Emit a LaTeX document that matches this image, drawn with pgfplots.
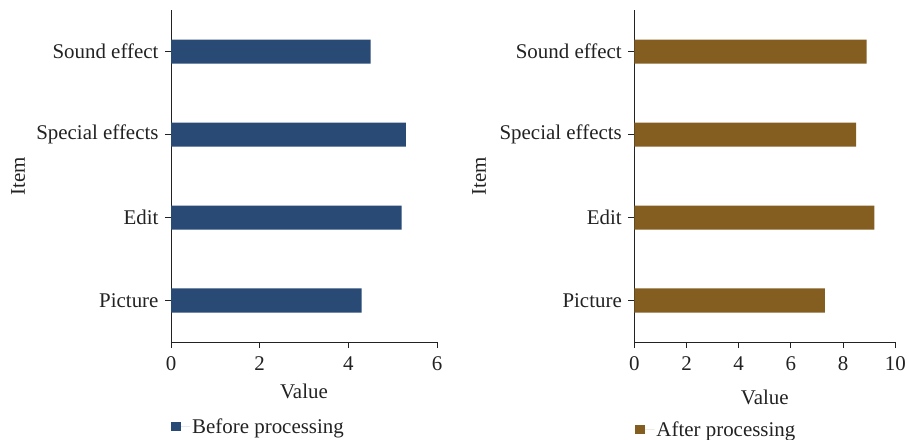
\documentclass[border=0pt]{standalone}
\usepackage{fontspec}
\setmainfont{Liberation Serif}
\usepackage{pgfplots}
\pgfplotsset{compat=1.18}

\definecolor{beforeblue}{HTML}{284A75}
\definecolor{afterbrown}{HTML}{845E21}
\definecolor{axisgray}{HTML}{222222}

\pgfplotsset{
  itembars/.style={
    scale only axis, height=332bp,
    xbar, bar width=24bp,
    ymin=-0.5, ymax=3.5,
    ytick={0,1,2,3},
    yticklabels={Picture,Edit,Special effects,Sound effect},
    xmin=0,
    axis x line=bottom, axis y line=left,
    axis line style={-, line width=0.9bp, axisgray},
    tick style={line width=0.9bp, axisgray},
    tick align=outside, major tick length=6bp,
    font=\fontsize{21}{25}\selectfont,
    tick label style={font=\fontsize{21}{25}\selectfont, text=axisgray},
    xticklabel style={yshift=-5bp},
    yticklabel style={xshift=-3bp},
    label style={font=\fontsize{21}{25}\selectfont, text=axisgray},
    /pgf/number format/assume math mode=true,
    xlabel={Value}, ylabel={Item},
    legend style={draw=none, fill=none, inner sep=0pt, anchor=west,
      font=\fontsize{21}{25}\selectfont, text=axisgray},
  }
}

\begin{document}
\begin{tikzpicture}
\path[use as bounding box] (0,0) rectangle (909bp,440bp);

% Before processing
\begin{axis}[itembars, at={(171bp,98bp)}, anchor=south west,
    width=266bp, xmax=6, xtick={0,2,4,6},
    xlabel style={at={(axis description cs:0.5,-0.15)}, anchor=center},
    ylabel style={at={(axis description cs:-0.575,0.5)}, anchor=center},
    legend style={at={(axis description cs:0,-0.256)}}]
\addplot[fill=beforeblue, draw=none,
  legend image code/.code={
    \fill[beforeblue] (0bp,-4.5bp) rectangle (9.5bp,4.5bp);
    \path (0bp,0bp) -- (19bp,0bp);}]
  coordinates {(4.3,0) (5.2,1) (5.3,2) (4.5,3)};
\addlegendentry{Before processing}
\end{axis}

% After processing
\begin{axis}[itembars, at={(634.3bp,98bp)}, anchor=south west,
    width=261bp, xmax=10, xtick={0,2,4,6,8,10},
    xlabel style={at={(axis description cs:0.5,-0.166)}, anchor=center},
    ylabel style={at={(axis description cs:-0.595,0.5)}, anchor=center},
    legend style={at={(axis description cs:0,-0.265)}}]
\addplot[fill=afterbrown, draw=none,
  legend image code/.code={
    \fill[afterbrown] (0bp,-4.5bp) rectangle (10bp,4.5bp);
    \path (0bp,0bp) -- (20bp,0bp);}]
  coordinates {(7.3,0) (9.2,1) (8.5,2) (8.9,3)};
\addlegendentry{After processing}
\end{axis}
\end{tikzpicture}
\end{document}
